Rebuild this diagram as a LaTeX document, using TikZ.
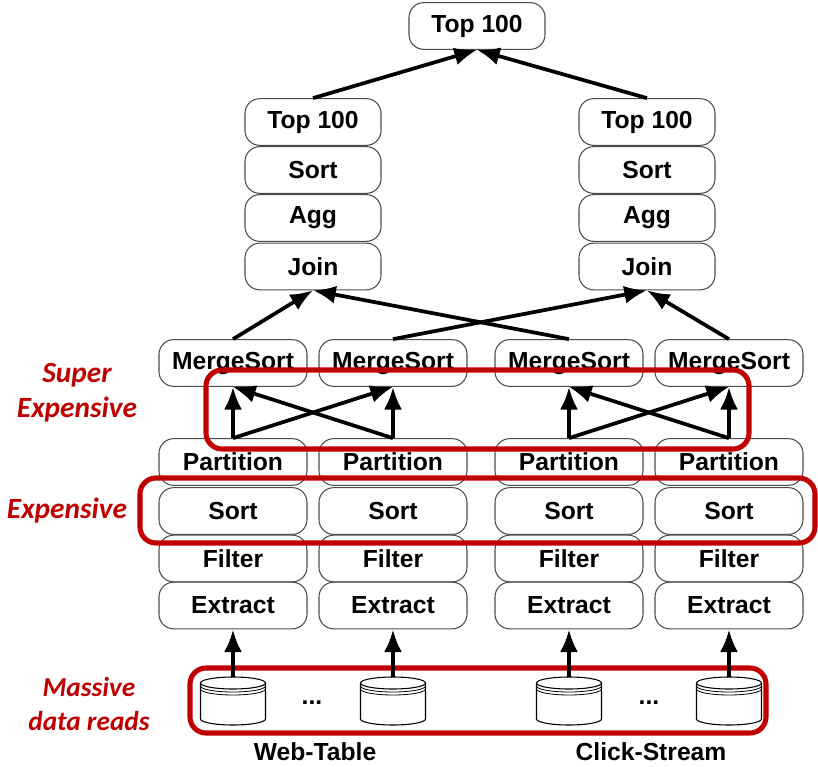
\documentclass[tikz,border=0pt]{standalone}
\usepackage{fontspec}
\setmainfont{Liberation Sans}
\newfontfamily\notefont{Carlito}
\usetikzlibrary{arrows.meta}

\definecolor{hotred}{RGB}{192,0,0}
\tikzset{
  op/.style={draw=black!70, line width=0.8pt, rounded corners=11pt, minimum height=35pt, inner sep=0pt,
    font=\fontsize{18.5}{21}\selectfont\bfseries},
  opwide/.style={op, minimum width=111pt},
  opjoin/.style={op, minimum width=102pt},
  flow/.style={line width=2.8pt, -{Latex[length=17pt, width=13.5pt]}},
  hot/.style={draw=hotred, line width=3.8pt, rounded corners=12pt},
  note/.style={text=hotred, align=center, font=\notefont\fontsize{22}{26}\selectfont\bfseries\itshape},
  source/.style={font=\fontsize{18.5}{21}\selectfont\bfseries},
  disk/.pic={
    \draw[line width=0.8pt, fill=white] (-32.5,-12) -- (-32.5,24) arc[start angle=180, end angle=360, x radius=32.5, y radius=-6] -- (32.5,-12);
    \draw[line width=0.8pt, fill=white] (0,-12) ellipse[x radius=32.5, y radius=6];
    \foreach \off in {3,6} {
      \draw[line width=0.6pt] (-32.5,-12+\off) arc[start angle=180, end angle=360, x radius=32.5, y radius=-6];
    }
    \coordinate (-top) at (0,-18);
  }
}

\begin{document}
\begin{tikzpicture}[x=0.75pt, y=-0.75pt]
  \useasboundingbox (0,0) rectangle (818,767);

  % bottom four columns
  \foreach \name/\xpos in {a/233, b/393, c/569, d/729} {
    \node[opwide] (merge\name) at (\xpos,363) {MergeSort};
    \node[opwide] (part\name) at (\xpos,462) {Partition};
    \node[opwide] (sort\name) at (\xpos,511) {Sort};
    \node[opwide] (filter\name) at (\xpos,558.5) {Filter};
    \node[opwide] (extract\name) at (\xpos,605.5) {Extract};
    \pic (disk\name) at (\xpos,695) {disk};
    \draw[flow] (part\name.north) -- (merge\name.south);
  }

  % the two joins
  \foreach \name/\xpos in {l/313, r/647} {
    \node[opjoin] (top\name) at (\xpos,122) {Top 100};
    \node[opjoin] (sort\name) at (\xpos,170) {Sort};
    \node[opjoin] (agg\name) at (\xpos,218) {Agg};
    \node[opjoin] (join\name) at (\xpos,266.5) {Join};
  }
  \node[opjoin] (top) at (477,26) {Top 100};

  \draw[flow] (topl.north) -- (top.south);
  \draw[flow] (topr.north) -- (top.south);
  \draw[flow] (mergea.north) -- (joinl.south);
  \draw[flow] (mergec.north) -- (joinl.south);
  \draw[flow] (mergeb.north) -- (joinr.south);
  \draw[flow] (merged.north) -- (joinr.south);

  % shuffles
  \draw[flow] (parta.north) -- (mergeb.south);
  \draw[flow] (partb.north) -- (mergea.south);
  \draw[flow] (partc.north) -- (merged.south);
  \draw[flow] (partd.north) -- (mergec.south);

  \node[source] (dotsl) at (312,703) {...};
  \node[source] (dotsr) at (649,703) {...};
  \node[source] (webtable) at (315,752) {Web-Table};
  \node[source] (clickstream) at (651,752) {Click-Stream};

  % costly parts
  \draw[hot] (206,370) rectangle (749,449);
  \draw[hot] (140,478) rectangle (815,543);
  \draw[hot] (190,668) rectangle (766,733);

  \foreach \name in {a,b,c,d} {
    \draw[flow] (disk\name-top) -- (extract\name.south);
  }

  \node[note] (superexp) at (77,393) {Super\\Expensive};
  \node[note] (expensive) at (67,511) {Expensive};
  \node[note, font=\notefont\fontsize{20.5}{26}\selectfont\bfseries\itshape] (massive) at (89,704) {Massive\\data reads};
\end{tikzpicture}
\end{document}
